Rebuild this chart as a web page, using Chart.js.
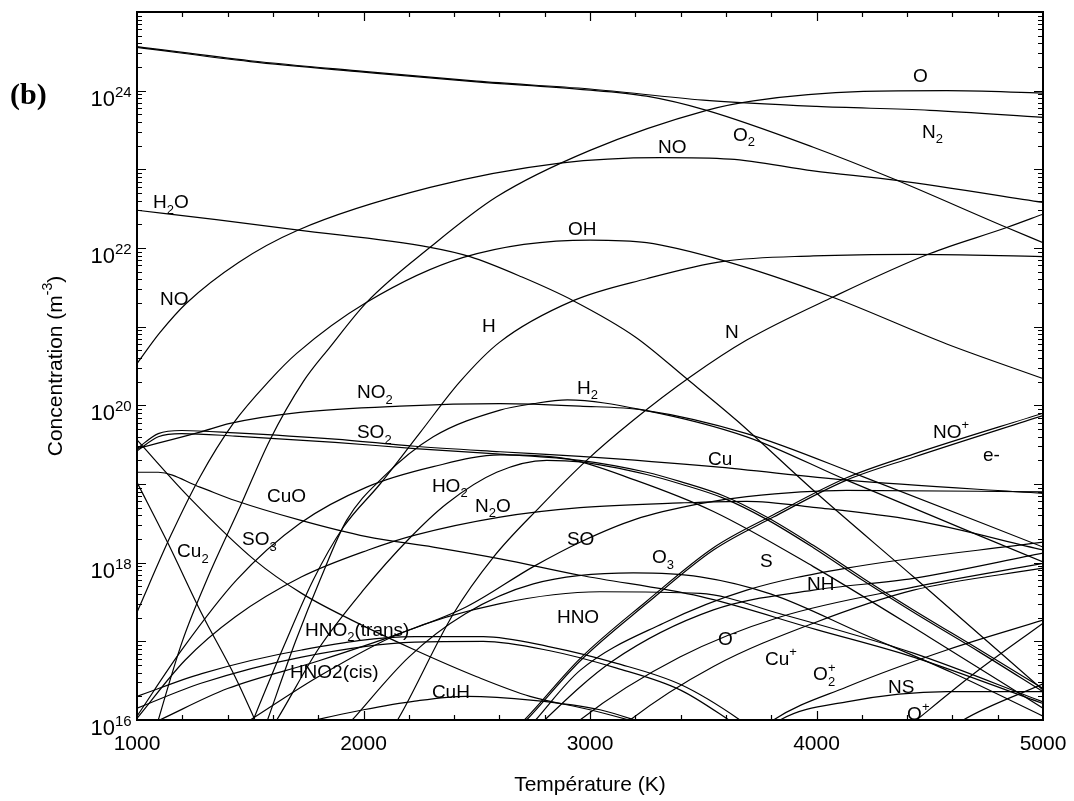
<!DOCTYPE html>
<html>
<head>
<meta charset="utf-8">
<script src="https://cdn.jsdelivr.net/npm/chart.js@4.4.0/dist/chart.umd.min.js"></script>
<style>
  html, body { margin: 0; padding: 0; background: #fff; }
  #wrap { width: 1074px; height: 801px; }
</style>
</head>
<body>
<div id="wrap"><canvas id="chart" width="1074" height="801"></canvas></div>
<script>
// Equilibrium composition, concentrations in m^-3
const tN2 = [1000, 1500, 2000, 2500, 3000, 3500, 4000, 4500, 5000];
const cN2 = [3.63e24, 2.40e24, 1.76e24, 1.32e24, 1.05e24, 7.59e23, 6.31e23, 5.62e23, 4.57e23];

const tO2 = [1000, 1500, 2000, 2500, 2956, 3250, 3515, 3986, 4339, 4840, 5000];
const cO2 = [3.55e24, 2.34e24, 1.72e24, 1.29e24, 1.04e24, 8.51e23, 5.62e23, 1.91e23, 7.59e22, 1.82e22, 1.17e22];

const tO = [1050, 1094, 1200, 1308, 1455, 1587, 1734, 1852, 2014, 2294, 2588, 3000, 3515, 3721, 4207, 4575, 5000];
const cO = [3.55e15, 1.0e16, 1.0e17, 6.03e17, 5.13e18, 3.63e19, 2.0e20, 5.50e20, 2.04e21, 1.02e22, 4.47e22, 1.74e23, 5.62e23, 7.41e23, 9.77e23, 1.0e24, 9.33e23];

const tOH = [1000, 1150, 1278, 1425, 1587, 1705, 2014, 2441, 3000, 3250, 3589, 4066, 4575, 5000];
const cOH = [2.34e17, 2.24e18, 1.23e19, 5.89e19, 2.09e20, 4.57e20, 2.04e21, 7.59e21, 1.26e22, 1.17e22, 6.92e21, 2.40e21, 6.03e20, 2.19e20];

const tNO = [1000, 1100, 1219, 1450, 1705, 2294, 2868, 3309, 3618, 3986, 4354, 5000];
const cNO = [3.39e20, 8.32e20, 2.0e21, 6.61e21, 1.66e22, 5.89e22, 1.20e23, 1.41e23, 1.35e23, 9.55e22, 7.24e22, 3.80e22];

const tH2O = [1000, 1350, 1705, 2294, 2470, 2700, 2926, 3200, 3426, 3647, 3986, 4428, 5000];
const cH2O = [3.02e22, 2.29e22, 1.70e22, 1.02e22, 7.76e21, 4.27e21, 2.14e21, 7.41e20, 2.19e20, 6.46e19, 8.32e18, 6.61e17, 2.40e16];

const tH = [1450, 1513, 1650, 1778, 1911, 2073, 2249, 2426, 2600, 2926, 3250, 3589, 3986, 4428, 5000];
const cH = [3.55e15, 1.0e16, 8.91e16, 6.03e17, 2.82e18, 1.0e19, 4.47e19, 2.0e20, 6.31e20, 2.14e21, 4.07e21, 6.76e21, 7.94e21, 8.32e21, 7.76e21];

const tN = [2100, 2176, 2397, 2573, 2779, 2985, 3191, 3442, 3692, 4075, 4501, 4840, 5000];
const cN = [5.62e15, 1.35e16, 2.24e17, 1.17e18, 5.13e18, 2.0e19, 6.46e19, 2.29e20, 6.76e20, 2.40e21, 8.51e21, 1.82e22, 2.69e22];

const tNO2 = [1000, 1278, 1411, 1720, 2161, 2603, 2956, 3236, 3692, 4207, 5000];
const cNO2 = [2.82e19, 4.57e19, 5.89e19, 8.13e19, 9.77e19, 1.05e20, 9.77e19, 8.71e19, 4.37e19, 1.23e19, 1.58e18];

const tH2 = [1570, 1700, 1808, 1926, 2088, 2308, 2603, 2750, 2900, 3236, 3692, 4133, 5000];
const cH2 = [8.91e15, 1.0e17, 6.03e17, 3.47e18, 1.23e19, 3.98e19, 8.71e19, 1.05e20, 1.17e20, 8.71e19, 3.98e19, 1.12e19, 1.02e18];

const tSO2 = [1000, 1094, 1197, 1433, 1874, 2227, 2603, 2956, 3250, 3400, 3589, 3780, 3986, 4207, 4428, 4722, 5000];
const cSO2 = [2.63e19, 3.98e19, 4.37e19, 4.07e19, 3.39e19, 2.82e19, 2.40e19, 2.0e19, 1.41e19, 1.07e19, 7.08e18, 3.80e18, 1.66e18, 6.31e17, 2.51e17, 7.76e16, 2.51e16];

const tCu = [1000, 1094, 1197, 1433, 1874, 2227, 2603, 2956, 3545, 4133, 5000];
const cCu = [2.82e19, 4.37e19, 4.79e19, 4.47e19, 3.72e19, 3.02e19, 2.57e19, 2.24e19, 1.66e19, 1.12e19, 7.59e18];

// unlabelled curve running next to SO2 above 2800 K
const tUnl1 = [1560, 1617, 1800, 1999, 2200, 2367, 2588, 2809, 2956, 3250, 3400, 3589, 3780, 3986, 4207, 4428, 4722, 5000];
const cUnl1 = [5.62e15, 1.0e16, 7.94e16, 4.47e17, 2.0e18, 5.62e18, 1.41e19, 2.0e19, 1.91e19, 1.32e19, 1.0e19, 6.61e18, 3.55e18, 1.55e18, 5.89e17, 2.34e17, 7.24e16, 2.29e16];

const tHO2 = [1000, 1200, 1440, 1720, 2014, 2308, 2603, 2900, 3200, 3545, 3986, 4500, 5000];
const cHO2 = [1.12e16, 7.94e16, 6.03e17, 3.16e18, 9.12e18, 1.66e19, 2.34e19, 2.09e19, 1.12e19, 4.47e18, 8.91e17, 1.12e17, 1.41e16];

const tCuO = [1000, 1094, 1278, 1433, 1720, 2014, 2308, 2603, 2956, 3486, 4000, 4428, 5000];
const cCuO = [1.41e19, 1.41e19, 9.12e18, 6.17e18, 3.47e18, 2.14e18, 1.58e18, 1.12e18, 6.92e17, 3.72e17, 1.41e17, 6.31e16, 1.62e16];

const tCu2 = [1000, 1138, 1286, 1433, 1521, 1560];
const cCu2 = [1.05e19, 1.74e18, 2.24e17, 3.55e16, 1.0e16, 5.62e15];

const tSO3 = [1000, 1227, 1521, 1727, 1948, 2227, 2500, 2735, 3000, 3300];
const cSO3 = [3.63e19, 6.92e18, 1.07e18, 4.07e17, 1.86e17, 7.76e16, 3.55e16, 2.0e16, 1.35e16, 7.94e15];

const tN2O = [1000, 1212, 1433, 1727, 2021, 2227, 2603, 2956, 3400, 3692, 4000, 4428, 5000];
const cN2O = [1.05e16, 5.75e16, 2.04e17, 6.61e17, 1.45e18, 2.24e18, 3.80e18, 5.01e18, 5.75e18, 6.03e18, 5.01e18, 3.47e18, 1.45e18];

const tSO = [1100, 1400, 1800, 2161, 2455, 2750, 2956, 3200, 3486, 3692, 4133, 5000];
const cSO = [1.0e16, 2.51e16, 5.62e16, 1.26e17, 2.75e17, 8.91e17, 1.82e18, 3.55e18, 5.62e18, 6.92e18, 8.32e18, 7.94e18];

const tHNO = [1500, 1800, 2161, 2603, 3044, 3486, 3839, 4428, 5000];
const cHNO = [1.0e16, 3.55e16, 1.26e17, 3.02e17, 4.27e17, 4.07e17, 2.24e17, 7.08e16, 1.70e16];

const tO3 = [1950, 2200, 2450, 2750, 3191, 3486, 3800, 4200, 4600, 5000];
const cO3 = [1.0e16, 6.31e16, 2.24e17, 5.37e17, 7.41e17, 6.61e17, 3.98e17, 1.26e17, 3.98e16, 1.12e16];

const tHNO2t = [1000, 1286, 1727, 2227, 2529, 2823, 3118, 3400, 3662, 3750];
const cHNO2t = [2.0e16, 3.89e16, 7.76e16, 1.15e17, 1.15e17, 8.51e16, 5.25e16, 2.82e16, 1.0e16, 6.31e15];

const tHNO2c = [1000, 1286, 1727, 2227, 2529, 2823, 3118, 3400, 3640, 3720];
const cHNO2c = [1.41e16, 2.95e16, 6.31e16, 9.77e16, 1.0e17, 7.59e16, 4.57e16, 2.40e16, 8.91e15, 6.31e15];

const tCuH = [1786, 2000, 2227, 2455, 2750, 3044, 3250];
const cCuH = [1.0e16, 1.35e16, 1.74e16, 2.0e16, 1.78e16, 1.35e16, 8.91e15];

const tNOp = [2650, 2720, 2956, 3250, 3545, 3810, 4133, 4428, 5000];
const cNOp = [6.31e15, 1.0e16, 5.62e16, 3.02e17, 1.45e18, 3.80e18, 1.12e19, 2.19e19, 7.41e19];
const cEl = [6.76e15, 1.07e16, 6.03e16, 3.24e17, 1.55e18, 4.07e18, 1.20e19, 2.40e19, 7.94e19];

const tS = [2700, 2760, 2956, 3324, 3692, 4133, 5000];
const cS = [6.31e15, 1.0e16, 4.27e16, 1.70e17, 4.47e17, 8.51e17, 1.82e18];

const tNH = [2750, 2800, 3100, 3545, 3986, 4428, 5000];
const cNH = [7.08e15, 1.0e16, 5.62e16, 2.51e17, 4.47e17, 6.31e17, 1.32e18];

const tOm = [2900, 2956, 3397, 3839, 4428, 5000];
const cOm = [7.08e15, 1.0e16, 6.31e16, 2.04e17, 4.90e17, 9.77e17];

const tCup = [3100, 3177, 3545, 3986, 4428, 5000];
const cCup = [6.31e15, 1.0e16, 4.79e16, 1.70e17, 4.47e17, 8.51e17];

const tO2p = [3750, 3810, 4133, 4575, 5000];
const cO2p = [7.08e15, 1.0e16, 2.63e16, 7.76e16, 1.86e17];

const tNS = [3780, 3839, 4133, 4575, 5000];
const cNS = [7.08e15, 1.0e16, 1.70e16, 2.29e16, 2.29e16];

const tOp = [4400, 4442, 4700, 5000];
const cOp = [7.94e15, 1.0e16, 3.98e16, 1.70e17];

const tUnl2 = [4600, 4648, 5000];
const cUnl2 = [7.94e15, 1.0e16, 2.88e16];

// curve labels: text (_ = subscript, ^ = superscript) and anchor in data units
const labelText = ['O', 'N_2', 'O_2', 'NO', 'H_2O', 'NO', 'OH', 'H', 'N', 'NO_2',
  'H_2', 'SO_2', 'Cu', 'CuO', 'HO_2', 'N_2O', 'SO', 'Cu_2', 'SO_3', 'O_3',
  'S', 'NH', 'NO^+', 'e-', 'HNO_2(trans)', 'HNO2(cis)', 'HNO', 'CuH', 'O^-', 'Cu^+',
  'O_2^+', 'NS', 'O^+'];
const labelT = [4426, 4466, 3631, 3300, 1071, 1102, 2903, 2523, 3596, 1971,
  2943, 1971, 3521, 1574, 2302, 2492, 2898, 1177, 1464, 3274,
  3751, 3958, 4514, 4735, 1742, 1675, 2854, 2302, 3565, 3773,
  3985, 4316, 4400];
const labelC = [1.3e24, 2.5e23, 2.3e23, 1.6e23, 3.2e22, 1.9e21, 1.45e22, 8.5e20, 7.1e20, 1.23e20,
  1.41e20, 3.8e19, 1.74e19, 5.9e18, 7.9e18, 4.4e18, 1.66e18, 1.17e18, 1.66e18, 9.8e17,
  8.7e17, 4.5e17, 3.9e19, 1.95e19, 1.17e17, 3.4e16, 1.7e17, 1.9e16, 8.9e16, 5.0e16,
  3.2e16, 2.2e16, 1.0e16];

// axes
const xTickValues = [1000, 2000, 3000, 4000, 5000];
const yTickExps = [16, 18, 20, 22, 24];
const X_MIN = 1000, X_MAX = 5000, Y_MIN = 1e16, Y_MAX = 1e25;

const SERIES = [
  ['N2', tN2, cN2], ['O2', tO2, cO2], ['O', tO, cO], ['OH', tOH, cOH],
  ['NO', tNO, cNO], ['H2O', tH2O, cH2O], ['H', tH, cH], ['N', tN, cN],
  ['NO2', tNO2, cNO2], ['H2', tH2, cH2], ['SO2', tSO2, cSO2], ['Cu', tCu, cCu],
  ['unl1', tUnl1, cUnl1], ['HO2', tHO2, cHO2], ['CuO', tCuO, cCuO], ['Cu2', tCu2, cCu2],
  ['SO3', tSO3, cSO3], ['N2O', tN2O, cN2O], ['SO', tSO, cSO], ['HNO', tHNO, cHNO],
  ['O3', tO3, cO3], ['HNO2 trans', tHNO2t, cHNO2t], ['HNO2 cis', tHNO2c, cHNO2c],
  ['CuH', tCuH, cCuH], ['NO+', tNOp, cNOp], ['e-', tNOp, cEl], ['S', tS, cS],
  ['NH', tNH, cNH], ['O-', tOm, cOm], ['Cu+', tCup, cCup], ['O2+', tO2p, cO2p],
  ['NS', tNS, cNS], ['O+', tOp, cOp], ['unl2', tUnl2, cUnl2]
];

const FONT = '"Liberation Sans", Arial, sans-serif';

// draw text with _x subscripts and ^x superscripts
function drawRich(ctx, str, x, y, size) {
  const small = Math.round(size * 0.68);
  let cx = x, subX = null, subW = 0;
  for (let i = 0; i < str.length; i++) {
    const ch = str[i];
    if (ch === '_' || ch === '^') {
      const c = str[++i];
      ctx.font = `${small}px ${FONT}`;
      const w = ctx.measureText(c).width;
      if (ch === '_') {
        ctx.fillText(c, cx, y + size * 0.28);
        subX = cx; subW = w;
        cx += w;
      } else {
        const px = subX !== null ? subX : cx;
        ctx.fillText(c, px, y - size * 0.45);
        cx = subX !== null ? px + Math.max(w, subW) : cx + w;
        subX = null;
      }
      continue;
    }
    subX = null;
    ctx.font = `${size}px ${FONT}`;
    ctx.fillText(ch, cx, y);
    cx += ctx.measureText(ch).width;
  }
}

const decorations = {
  id: 'decorations',
  afterDraw(chart) {
    const { ctx, chartArea: a, scales: { x, y } } = chart;
    ctx.save();
    ctx.strokeStyle = '#000';
    ctx.fillStyle = '#000';

    // frame
    ctx.lineWidth = 2;
    ctx.strokeRect(a.left, a.top, a.right - a.left, a.bottom - a.top);

    // x ticks, inward on bottom and top
    ctx.lineWidth = 1.2;
    ctx.beginPath();
    for (let t = X_MIN + 200; t < X_MAX; t += 200) {
      const px = Math.round(x.getPixelForValue(t)) + 0.5;
      const len = t % 1000 === 0 ? 9 : 5;
      ctx.moveTo(px, a.bottom); ctx.lineTo(px, a.bottom - len);
      ctx.moveTo(px, a.top); ctx.lineTo(px, a.top + len);
    }
    // y ticks, log minor, inward on left and right
    for (let d = 16; d <= 25; d++) {
      for (let m = 1; m <= 9; m++) {
        const v = m * Math.pow(10, d);
        if (v > Y_MAX * 1.0001) break;
        const py = Math.round(y.getPixelForValue(v)) + 0.5;
        const len = m === 1 ? 9 : 5;
        ctx.moveTo(a.left, py); ctx.lineTo(a.left + len, py);
        ctx.moveTo(a.right, py); ctx.lineTo(a.right - len, py);
      }
    }
    ctx.stroke();

    // x tick labels
    ctx.font = `21px ${FONT}`;
    ctx.textAlign = 'center';
    ctx.textBaseline = 'alphabetic';
    xTickValues.forEach(v => ctx.fillText(String(v), x.getPixelForValue(v), a.bottom + 30));

    // y tick labels 10^n
    yTickExps.forEach(e => {
      const py = y.getPixelForValue(Math.pow(10, e));
      ctx.textAlign = 'right';
      ctx.font = `22px ${FONT}`;
      ctx.fillText('10', a.left - 22, py + 15);
      ctx.textAlign = 'left';
      ctx.font = `15px ${FONT}`;
      ctx.fillText(String(e), a.left - 22, py + 6);
    });

    // axis titles
    ctx.textAlign = 'center';
    ctx.font = `21px ${FONT}`;
    ctx.fillText('Température (K)', (a.left + a.right) / 2, a.bottom + 71);

    ctx.save();
    ctx.translate(a.left - 75, (a.top + a.bottom) / 2);
    ctx.rotate(-Math.PI / 2);
    ctx.textAlign = 'left';
    ctx.font = `21px ${FONT}`;
    const main = 'Concentration (m';
    const wMain = ctx.measureText(main).width;
    ctx.font = `14px ${FONT}`;
    const wSup = ctx.measureText('-3').width;
    ctx.font = `21px ${FONT}`;
    const wEnd = ctx.measureText(')').width;
    const x0 = -(wMain + wSup + wEnd) / 2;
    ctx.fillText(main, x0, 0);
    ctx.font = `14px ${FONT}`;
    ctx.fillText('-3', x0 + wMain, -10);
    ctx.font = `21px ${FONT}`;
    ctx.fillText(')', x0 + wMain + wSup, 0);
    ctx.restore();

    // panel letter
    ctx.textAlign = 'left';
    ctx.font = `bold 30px "Liberation Serif", "Times New Roman", serif`;
    ctx.fillText('(b)', 10, 104);

    // curve labels
    ctx.textAlign = 'left';
    labelText.forEach((txt, i) => {
      drawRich(ctx, txt, x.getPixelForValue(labelT[i]), y.getPixelForValue(labelC[i]), 19);
    });

    ctx.restore();
  }
};

new Chart(document.getElementById('chart'), {
  type: 'line',
  data: {
    datasets: SERIES.map(([name, T, C]) => ({
      label: name,
      data: T.map((t, i) => ({ x: t, y: C[i] })),
      borderColor: '#000',
      borderWidth: 1.2,
      pointRadius: 0,
      fill: false,
      cubicInterpolationMode: 'monotone'
    }))
  },
  options: {
    responsive: false,
    animation: false,
    layout: { padding: { left: 137, top: 12, right: 31, bottom: 81 } },
    plugins: { legend: { display: false }, tooltip: { enabled: false } },
    scales: {
      x: { type: 'linear', min: X_MIN, max: X_MAX, display: false },
      y: { type: 'logarithmic', min: Y_MIN, max: Y_MAX, display: false }
    }
  },
  plugins: [decorations]
});
</script>
</body>
</html>
